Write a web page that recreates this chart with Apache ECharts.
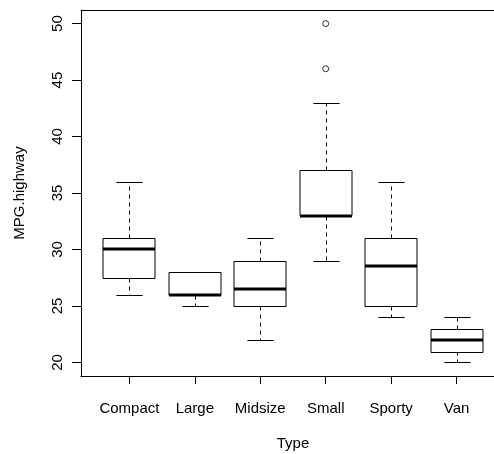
<!DOCTYPE html>
<html>
<head>
<meta charset="utf-8">
<script src="https://cdn.jsdelivr.net/npm/echarts@6/dist/echarts.min.js"></script>
<style>html,body{margin:0;padding:0;background:#fff}#c{width:494px;height:454px}</style>
</head>
<body>
<div id="c"></div>
<script>
const categories = ['Compact', 'Large', 'Midsize', 'Small', 'Sporty', 'Van'];
const whiskerLow = [26, 25, 22, 29, 24, 20];
const lowerHinge = [27.5, 26, 25, 33, 25, 21];
const medians = [30, 26, 26.5, 33, 28.5, 22];
const upperHinge = [31, 28, 29, 37, 31, 23];
const whiskerHigh = [36, 28, 31, 43, 36, 24];
const outlierCategory = ['Small', 'Small'];
const outlierValues = [46, 50];
const yTicks = [20, 25, 30, 35, 40, 45, 50];

const boxData = categories.map((c, i) => [i + 1, whiskerLow[i], lowerHinge[i], medians[i], upperHinge[i], whiskerHigh[i]]);
const outlierData = outlierValues.map((v, i) => [categories.indexOf(outlierCategory[i]) + 1, v]);
const xPositions = categories.map((c, i) => i + 1);

const FONT = '"Liberation Sans", Arial, sans-serif';
const INK = '#000';

function renderBox(params, api) {
  const x = api.value(0);
  const lo = api.coord([x, api.value(1)]);
  const q1 = api.coord([x, api.value(2)]);
  const md = api.coord([x, api.value(3)]);
  const q3 = api.coord([x, api.value(4)]);
  const hi = api.coord([x, api.value(5)]);
  const bw = api.size([0.8, 0])[0];
  const cw = api.size([0.4, 0])[0];
  const cx = Math.round(lo[0]) + 0.5;
  const r = v => Math.round(v) + 0.5;
  const thin = { stroke: INK, lineWidth: 1, fill: null };
  const dash = { stroke: INK, lineWidth: 1, lineDash: [4, 4], fill: null };
  return {
    type: 'group',
    children: [
      { type: 'line', shape: { x1: cx, y1: r(q3[1]), x2: cx, y2: r(hi[1]) }, style: dash },
      { type: 'line', shape: { x1: cx, y1: r(q1[1]), x2: cx, y2: r(lo[1]) }, style: dash },
      { type: 'line', shape: { x1: cx - cw / 2, y1: r(hi[1]), x2: cx + cw / 2, y2: r(hi[1]) }, style: thin },
      { type: 'line', shape: { x1: cx - cw / 2, y1: r(lo[1]), x2: cx + cw / 2, y2: r(lo[1]) }, style: thin },
      { type: 'rect', shape: { x: Math.round(cx - bw / 2), y: r(q3[1]), width: Math.round(bw), height: Math.round(q1[1] - q3[1]) }, style: { stroke: INK, lineWidth: 1, fill: '#fff' } },
      { type: 'line', shape: { x1: Math.round(cx - bw / 2), y1: Math.round(md[1]), x2: Math.round(cx - bw / 2) + Math.round(bw), y2: Math.round(md[1]) }, style: { stroke: INK, lineWidth: 3 } }
    ]
  };
}

const chart = echarts.init(document.getElementById('c'), null, { renderer: 'canvas' });
chart.setOption({
  animation: false,
  backgroundColor: '#fff',
  textStyle: { fontFamily: FONT },
  grid: { left: 81, top: 10, width: 424, height: 366, containLabel: false, outerBoundsMode: 'none' },
  xAxis: [{
    type: 'value', min: 0.26, max: 6.74, position: 'bottom',
    name: 'Type', nameLocation: 'middle', nameGap: 60,
    nameTextStyle: { fontSize: 15, color: INK, fontFamily: FONT },
    axisLine: { show: true, lineStyle: { color: INK, width: 1 } },
    axisTick: { show: true, length: 8, customValues: xPositions, lineStyle: { color: INK } },
    axisLabel: { show: true, customValues: xPositions, margin: 25, fontSize: 15, color: INK, fontFamily: FONT,
      formatter: v => categories[Math.round(v) - 1] || '' },
    splitLine: { show: false }
  }, {
    type: 'value', min: 0.26, max: 6.74, position: 'top',
    axisLine: { show: true, onZero: false, lineStyle: { color: INK, width: 1 } },
    axisTick: { show: false }, axisLabel: { show: false }, splitLine: { show: false }
  }],
  yAxis: [{
    type: 'value', min: 18.8, max: 51.2, position: 'left',
    name: 'MPG.highway', nameLocation: 'middle', nameGap: 54, nameRotate: 90,
    nameTextStyle: { fontSize: 15, color: INK, fontFamily: FONT },
    axisLine: { show: true, onZero: false, lineStyle: { color: INK, width: 1 } },
    axisTick: { show: true, length: 9, customValues: yTicks, lineStyle: { color: INK } },
    axisLabel: { show: true, customValues: yTicks, rotate: 90, margin: 16, fontSize: 15, color: INK, fontFamily: FONT },
    splitLine: { show: false }
  }],
  series: [{
    type: 'custom',
    renderItem: renderBox,
    data: boxData,
    encode: { x: 0, y: [1, 2, 3, 4, 5] },
    clip: false
  }, {
    type: 'scatter',
    data: outlierData,
    symbol: 'circle',
    symbolSize: 6,
    itemStyle: { color: '#fff', borderColor: INK, borderWidth: 1 }
  }]
});
</script>
</body>
</html>
